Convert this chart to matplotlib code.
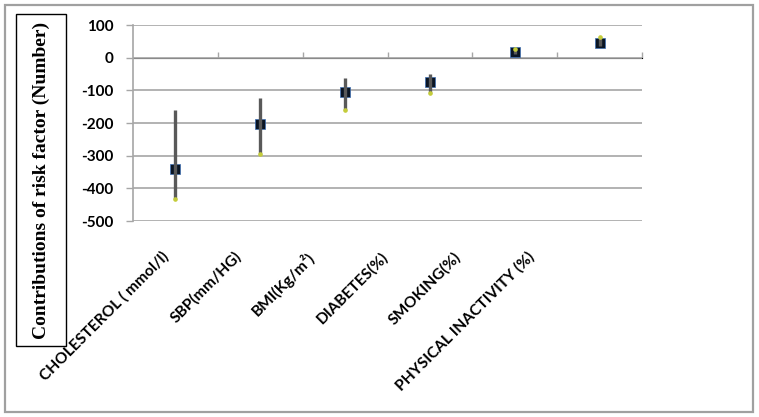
import matplotlib
matplotlib.use("Agg")
import matplotlib.pyplot as plt
from matplotlib.patches import Rectangle
import matplotlib.transforms as mtransforms

categories = ["CHOLESTEROL ( mmol/l)", "SBP(mm/HG)", "BMI(Kg/m\u00b2)",
              "DIABETES(%)", "SMOKING(%)", "PHYSICAL INACTIVITY (%)"]
high_vals = [-160, -124, -61, -50, 26, 64]
low_vals = [-432, -295, -160, -109, 10, 36]
mid_vals = [-340, -203, -105, -74, 16, 46]
dot_vals = [-432, -295, -160, -109, 26, 64]
y_ticks = [100, 0, -100, -200, -300, -400, -500]
y_label = "Contributions of risk factor (Number)"

W, H = 759, 417
fig = plt.figure(figsize=(W / 100, H / 100), dpi=100)
ax_l, ax_r, ax_t, ax_b = 133, 642, 25, 221
ax = fig.add_axes([ax_l / W, 1 - ax_b / H, (ax_r - ax_l) / W, (ax_b - ax_t) / H])

grid_c = "#a6a6a6"
n = len(categories)
xs = list(range(n))
ax.set_xlim(-0.5, n - 0.5)
ax.set_ylim(-500, 100)
ax.set_yticks(y_ticks)
ax.set_yticklabels([str(v) for v in y_ticks], fontfamily="Lato", fontweight="bold", fontsize=11)
ax.yaxis.grid(True, color=grid_c, linewidth=1.2)
ax.set_axisbelow(True)
for s in ["top", "right", "bottom"]:
    ax.spines[s].set_visible(False)
ax.spines["left"].set_color(grid_c)
ax.spines["left"].set_linewidth(1.2)
ax.tick_params(axis="y", direction="out", length=5, width=1.0, color=grid_c, pad=9)
ax.set_xticks(xs)
ax.tick_params(axis="x", length=0, labelbottom=False)

# x axis at y = 0 with boundary ticks
loc = (0 - (-500)) / (100 - (-500))
sec = ax.secondary_xaxis(loc)
sec.set_xticks([x + 0.5 for x in xs])
sec.tick_params(axis="x", direction="out", length=4, width=1.0, color=grid_c, labelbottom=False)
sec.set_xticklabels([])
sec.spines["bottom"].set_visible(False)

# markers and lines
ax.plot(xs, mid_vals, linestyle="none", marker="s", markersize=7.8,
        markerfacecolor="#0a1524", markeredgecolor="#3c6eb4", markeredgewidth=0.5, zorder=3)
ax.vlines(xs, low_vals, high_vals, color="#595959", linewidth=2.4, zorder=4)
ax.plot(xs, dot_vals, linestyle="none", marker="o", markersize=2.3,
        markerfacecolor="#c4cc3a", markeredgecolor="#c4cc3a", zorder=5)

# category labels (rotated)
trans = mtransforms.blended_transform_factory(ax.transData, ax.transAxes)
step = 73.3 / 85.0
for i, cat in enumerate(categories):
    ax.text(-0.11 + i * step, -0.17, cat, transform=trans, rotation=45,
            rotation_mode="anchor", ha="right", va="center",
            fontfamily="Lato", fontweight="bold", fontsize=11.2)

# y label with box
fig.patches.append(Rectangle((16 / W, 1 - 346 / H), 50 / W, 332 / H, transform=fig.transFigure,
                             fill=False, edgecolor="black", linewidth=1.0))
fig.text(41 / W, 1 - 180 / H, y_label, rotation=90, ha="center", va="center",
         fontfamily="Liberation Serif", fontweight="bold", fontsize=14)

# outer frame
fig.patches.append(Rectangle((4.5 / W, 1 - 411.5 / H), 748.5 / W, 407 / H, transform=fig.transFigure,
                             fill=False, edgecolor="#a0a0a0", linewidth=1.6))

fig.savefig("out.png", dpi=100)
